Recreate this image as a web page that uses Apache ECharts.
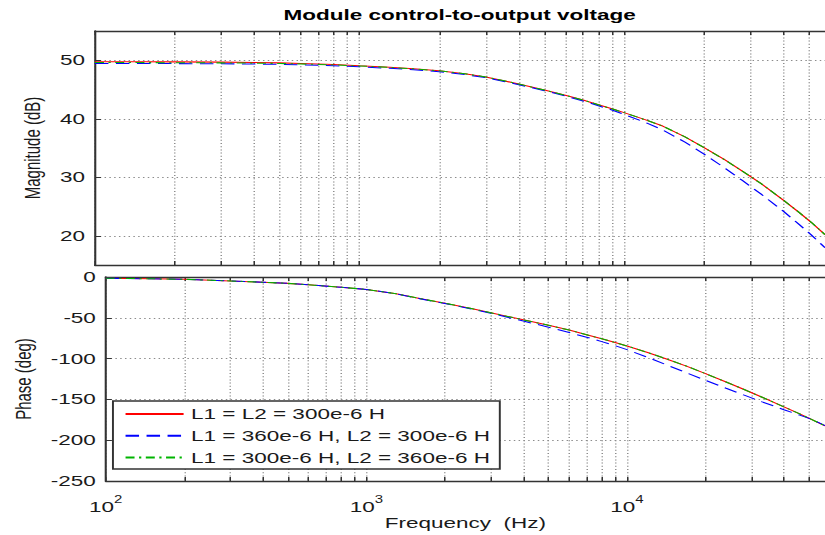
<!DOCTYPE html>
<html>
<head>
<meta charset="utf-8">
<script src="https://cdn.jsdelivr.net/npm/echarts@6/dist/echarts.min.js"></script>
<style>
  html, body { margin: 0; padding: 0; overflow: hidden; background: #ffffff; width: 825px; height: 535px; }
  /* the figure is laid out on a 550px-wide canvas and widened 1.5x */
  #chart { width: 550px; height: 535px; transform: scaleX(1.5); transform-origin: 0 0; }
</style>
</head>
<body>
<div id="chart"></div>
<script>
// Frequency samples (Hz)
const freq = [100, 150, 200, 300, 400, 500, 600, 800, 1000, 1300, 1600, 2000, 2500, 3000,
  4000, 5000, 6000, 7000, 8000, 9000, 10000, 12000, 14000, 17000, 20000, 24000, 28000,
  33000, 40000, 46000, 51000, 57500];

// Magnitude (dB)
const magL300 = [49.75, 49.75, 49.72, 49.68, 49.62, 49.55, 49.45, 49.27, 49.05, 48.8, 48.55,
  48.2, 47.7, 47.15, 45.95, 44.9, 44.0, 43.2, 42.38, 41.7, 41.05, 39.85, 38.75, 36.9, 35.1,
  33.0, 31.05, 28.9, 26.1, 23.95, 22.3, 20.2];
const magL1_360 = [49.45, 49.45, 49.43, 49.4, 49.35, 49.3, 49.22, 49.05, 48.88, 48.62, 48.38,
  48.05, 47.55, 47.02, 45.82, 44.8, 43.9, 43.05, 42.22, 41.5, 40.75, 39.4, 38.1, 36.0, 34.0,
  31.6, 29.45, 27.1, 24.2, 21.9, 20.15, 17.95];
const magL2_360 = [49.6, 49.6, 49.58, 49.55, 49.5, 49.45, 49.37, 49.2, 49.02, 48.78, 48.53,
  48.2, 47.7, 47.15, 45.95, 44.9, 44.0, 43.2, 42.38, 41.7, 41.05, 39.85, 38.75, 36.9, 35.1,
  33.0, 31.05, 28.9, 26.1, 23.95, 22.3, 20.2];

// Phase (deg)
const phaseL300 = [-1.5, -2.2, -2.8, -4.8, -6.4, -7.8, -9.6, -12.6, -15.2, -20.5, -26.3,
  -32.2, -38.3, -43.8, -52.5, -59.2, -65.0, -70.8, -75.8, -80.3, -84.6, -92.5, -99.8,
  -109.5, -118.4, -128.7, -137.6, -147.4, -159.1, -167.8, -174.4, -182.5];
const phaseL1_360 = [-1.5, -2.2, -2.8, -4.8, -6.4, -7.8, -9.6, -12.6, -15.2, -20.6, -26.5,
  -32.5, -38.8, -44.4, -54.0, -61.5, -68.0, -73.8, -79.2, -84.2, -89.0, -98.5, -107.0,
  -117.7, -126.6, -136.4, -144.5, -153.0, -162.6, -169.3, -174.3, -182.2];
const phaseL2_360 = [-1.5, -2.2, -2.8, -4.8, -6.4, -7.8, -9.6, -12.6, -15.2, -20.5, -26.3,
  -32.2, -38.3, -43.8, -52.5, -59.2, -65.0, -70.8, -75.8, -80.3, -84.6, -92.5, -99.8,
  -109.5, -118.4, -128.7, -137.6, -147.4, -159.1, -167.8, -174.4, -182.5];

const seriesNames = ['L1 = L2 = 300e-6 H', 'L1 = 360e-6 H, L2 = 300e-6 H', 'L1 = 300e-6 H, L2 = 360e-6 H'];

// Tick positions
const freqGridTicks = [100, 200, 300, 400, 500, 600, 700, 800, 900,
  1000, 2000, 3000, 4000, 5000, 6000, 7000, 8000, 9000,
  10000, 20000, 30000, 40000, 50000];
const freqLabelTicks = [100, 1000, 10000];
const magTicks = [20, 30, 40, 50];
const phaseTicks = [-250, -200, -150, -100, -50, 0];

const FONT = 'Liberation Sans, Arial, sans-serif';
const AXIS_COLOR = '#333333';
const TEXT_COLOR = '#1a1a1a';
const GRID_LINE = { show: true, lineStyle: { color: '#8c8c8c', width: 1, type: [1, 2.2] } };

const lineStyles = [
  { color: '#ff0000', width: 1.05, type: 'solid' },
  { color: '#0000ff', width: 1.05, type: [9, 5] },
  { color: '#00b400', width: 1.05, type: [6, 3, 1.5, 3] }
];

function pairs(ys) { return freq.map((f, i) => [f, ys[i]]); }

function freqAxis(gridIndex, position, withGrid, withLabels) {
  return {
    type: 'log', logBase: 10, gridIndex: gridIndex, position: position,
    min: 100, max: 57500,
    axisLine: { show: true, onZero: false, lineStyle: { color: AXIS_COLOR, width: 1.4 } },
    axisTick: { show: true, inside: true, length: 4, customValues: freqGridTicks,
      lineStyle: { color: AXIS_COLOR, width: 1 } },
    splitLine: withGrid ? GRID_LINE : { show: false },
    minorTick: { show: false }, minorSplitLine: { show: false },
    axisLabel: withLabels ? {
      show: true, customValues: freqLabelTicks, margin: 13,
      formatter: v => '{b|10}{s|' + Math.round(Math.log10(v)) + '}',
      rich: {
        b: { fontFamily: FONT, fontSize: 15, color: TEXT_COLOR, lineHeight: 20, verticalAlign: 'bottom' },
        s: { fontFamily: FONT, fontSize: 10, color: TEXT_COLOR, lineHeight: 10, verticalAlign: 'top' }
      }
    } : { show: false },
    name: withLabels ? 'Frequency  (Hz)' : '',
    nameLocation: 'middle', nameGap: 33,
    nameTextStyle: { fontFamily: FONT, fontSize: 15, color: TEXT_COLOR }
  };
}

const option = {
  animation: false,
  backgroundColor: '#ffffff',
  title: {
    text: 'Module control-to-output voltage',
    left: 184, top: 2,
    textStyle: { fontFamily: FONT, fontWeight: 'bold', fontSize: 15, color: '#000000' }
  },
  legend: {
    data: seriesNames,
    orient: 'vertical',
    left: 75.3, top: 401,
    itemWidth: 38.7, itemHeight: 14, itemGap: 5.8,
    padding: [5, 6.5, 3.4, 7.4],
    borderColor: AXIS_COLOR, borderWidth: 1.3,
    backgroundColor: '#ffffff',
    itemStyle: { opacity: 0 },
    textStyle: { fontFamily: FONT, fontSize: 15, color: TEXT_COLOR, lineHeight: 16 }
  },
  grid: [
    { left: 63.3, right: -2, top: 31, height: 234 },
    { left: 63.3, right: -2, top: 277, height: 204 }
  ],
  xAxis: [
    freqAxis(0, 'bottom', true, false),
    freqAxis(1, 'bottom', true, true),
    freqAxis(0, 'top', false, false),
    freqAxis(1, 'top', false, false)
  ],
  yAxis: [
    {
      type: 'value', gridIndex: 0, min: 15, max: 55,
      axisLine: { show: true, lineStyle: { color: AXIS_COLOR, width: 1.4 } },
      axisTick: { show: true, inside: true, length: 4, customValues: magTicks,
        lineStyle: { color: AXIS_COLOR } },
      axisLabel: { customValues: magTicks, margin: 6.6, fontFamily: FONT, fontSize: 15, color: TEXT_COLOR },
      splitLine: GRID_LINE,
      name: 'Magnitude (dB)', nameLocation: 'middle', nameGap: 25,
      nameTextStyle: { fontFamily: FONT, fontSize: 15, color: TEXT_COLOR }
    },
    {
      type: 'value', gridIndex: 1, min: -250, max: 0, interval: 50,
      axisLine: { show: true, lineStyle: { color: AXIS_COLOR, width: 1.4 } },
      axisTick: { show: true, inside: true, length: 4, customValues: phaseTicks,
        lineStyle: { color: AXIS_COLOR } },
      axisLabel: { customValues: phaseTicks, margin: 6.6, fontFamily: FONT, fontSize: 15, color: TEXT_COLOR },
      splitLine: GRID_LINE,
      name: 'Phase (deg)', nameLocation: 'middle', nameGap: 43.5,
      nameTextStyle: { fontFamily: FONT, fontSize: 15, color: TEXT_COLOR }
    }
  ],
  series: []
};

const magSets = [magL300, magL1_360, magL2_360];
const phaseSets = [phaseL300, phaseL1_360, phaseL2_360];
seriesNames.forEach((name, k) => {
  option.series.push({
    name: name, type: 'line', xAxisIndex: 0, yAxisIndex: 0,
    data: pairs(magSets[k]), symbol: 'none', showSymbol: false,
    lineStyle: lineStyles[k], itemStyle: { color: lineStyles[k].color }, z: 3 + k
  });
});
seriesNames.forEach((name, k) => {
  option.series.push({
    name: name, type: 'line', xAxisIndex: 1, yAxisIndex: 1,
    data: pairs(phaseSets[k]), symbol: 'none', showSymbol: false,
    lineStyle: lineStyles[k], itemStyle: { color: lineStyles[k].color }, z: 3 + k
  });
});

const chart = echarts.init(document.getElementById('chart'), null, { renderer: 'svg' });
chart.setOption(option);
</script>
</body>
</html>
